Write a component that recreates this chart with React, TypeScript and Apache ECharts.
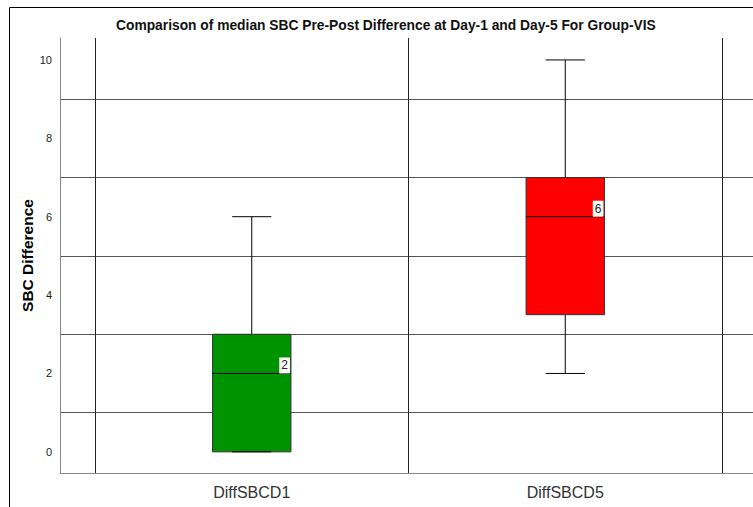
import React, { useEffect, useRef } from "react";
import * as echarts from "echarts";

const title = "Comparison of median SBC Pre-Post Difference at Day-1 and Day-5 For Group-VIS";
const categories = ["DiffSBCD1", "DiffSBCD5"];
// [min, q1, median, q3, max]
const boxStats = [
  [0, 0, 2, 3, 6],
  [2, 3.5, 6, 7, 10],
];
const boxColors = ["#009300", "#ff0000"];
const yLabelValues = [0, 2, 4, 6, 8, 10];
const yGridValues = [1, 3, 5, 7, 9];
const yMin = -0.54;
const yMax = 10.56;

export default function App() {
  const ref = useRef<HTMLDivElement>(null);
  useEffect(() => {
    const chart = echarts.init(ref.current!, null, { renderer: "svg" });
    const data = boxStats.map((s, i) => [i, ...s]);
    const option: any = {
      animation: false,
      backgroundColor: "#fff",
      title: {
        text: title,
        left: 116,
        top: 18,
        padding: 0,
        textStyle: { fontFamily: "Liberation Sans, Arial", fontWeight: "bold", fontSize: 13.8, color: "#111" },
      },
      graphic: [
        {
          type: "rect",
          shape: { x: 9.5, y: 7.5, width: 800, height: 600 },
          style: { fill: "none", stroke: "#000", lineWidth: 1 },
          silent: true,
        },
      ],
      grid: [
        { left: 60, right: 0, top: 38, bottom: 34 },
        { left: 95, right: 31, top: 38, bottom: 34 },
      ],
      xAxis: [
        {
          gridIndex: 0,
          type: "value",
          min: 0,
          max: 1,
          axisLine: { show: true, onZero: false, lineStyle: { color: "#888", width: 1 } },
          axisTick: { show: false },
          axisLabel: { show: false },
          splitLine: { show: false },
        },
        {
          gridIndex: 1,
          type: "category",
          data: categories,
          boundaryGap: true,
          axisLine: { show: false },
          axisTick: { show: false },
          axisLabel: {
            margin: 11,
            fontFamily: "Liberation Sans, Arial",
            fontSize: 16,
            color: "#333",
          },
          splitLine: { show: true, interval: 0, lineStyle: { color: "#222", width: 1 } },
        },
      ],
      yAxis: [
        {
          gridIndex: 0,
          type: "value",
          min: yMin,
          max: yMax,
          name: "SBC Difference",
          nameLocation: "middle",
          nameGap: 25,
          nameMoveOverlap: false,
          nameTextStyle: { fontFamily: "Liberation Sans, Arial", fontWeight: "bold", fontSize: 15.5, color: "#000" },
          axisLine: { show: true, lineStyle: { color: "#888", width: 1 } },
          axisTick: { show: false, customValues: yGridValues },
          axisLabel: {
            customValues: yLabelValues,
            margin: 8,
            fontFamily: "Liberation Sans, Arial",
            fontSize: 11,
            color: "#222",
          },
          splitLine: { show: true, lineStyle: { color: "#555", width: 1 } },
        },
        {
          gridIndex: 1,
          type: "value",
          min: yMin,
          max: yMax,
          show: false,
          splitLine: { show: false },
        },
      ],
      series: [
        {
          type: "custom",
          xAxisIndex: 1,
          yAxisIndex: 1,
          data,
          renderItem: (params: any, api: any) => {
            const i = api.value(0);
            const mn = api.value(1), q1 = api.value(2), md = api.value(3), q3 = api.value(4), mx = api.value(5);
            const band = api.size([1, 0])[0];
            const boxW = band * 0.25;
            const capW = boxW / 2;
            const cx = api.coord([i, md])[0];
            const yMn = api.coord([i, mn])[1];
            const yQ1 = api.coord([i, q1])[1];
            const yMd = api.coord([i, md])[1];
            const yQ3 = api.coord([i, q3])[1];
            const yMx = api.coord([i, mx])[1];
            const lineStyle = { stroke: "#000", lineWidth: 1 };
            const left = cx - boxW / 2;
            const right = cx + boxW / 2;
            return {
              type: "group",
              children: [
                { type: "line", shape: { x1: cx, y1: yMx, x2: cx, y2: yQ3 }, style: lineStyle },
                { type: "line", shape: { x1: cx, y1: yQ1, x2: cx, y2: yMn }, style: lineStyle },
                {
                  type: "rect",
                  shape: { x: left, y: yQ3, width: boxW, height: yQ1 - yQ3 },
                  style: { fill: boxColors[i], stroke: "#333", lineWidth: 1 },
                },
                { type: "line", shape: { x1: cx - capW / 2, y1: yMx, x2: cx + capW / 2, y2: yMx }, style: lineStyle },
                { type: "line", shape: { x1: cx - capW / 2, y1: yMn, x2: cx + capW / 2, y2: yMn }, style: lineStyle },
                { type: "line", shape: { x1: left, y1: yMd, x2: right, y2: yMd }, style: lineStyle },
                {
                  type: "text",
                  style: {
                    text: String(md),
                    x: right - 1,
                    y: yMd,
                    align: "right",
                    verticalAlign: "bottom",
                    fill: "#222",
                    backgroundColor: "#fff",
                    padding: [2, 2, 2, 2],
                    font: "12px Liberation Sans, Arial",
                  },
                },
              ],
            };
          },
        },
      ],
    };
    chart.setOption(option);
    return () => chart.dispose();
  }, []);
  return (
    <div
      ref={ref}
      style={{ position: "fixed", left: 0, top: 0, width: 753, height: 507 }}
    />
  );
}
